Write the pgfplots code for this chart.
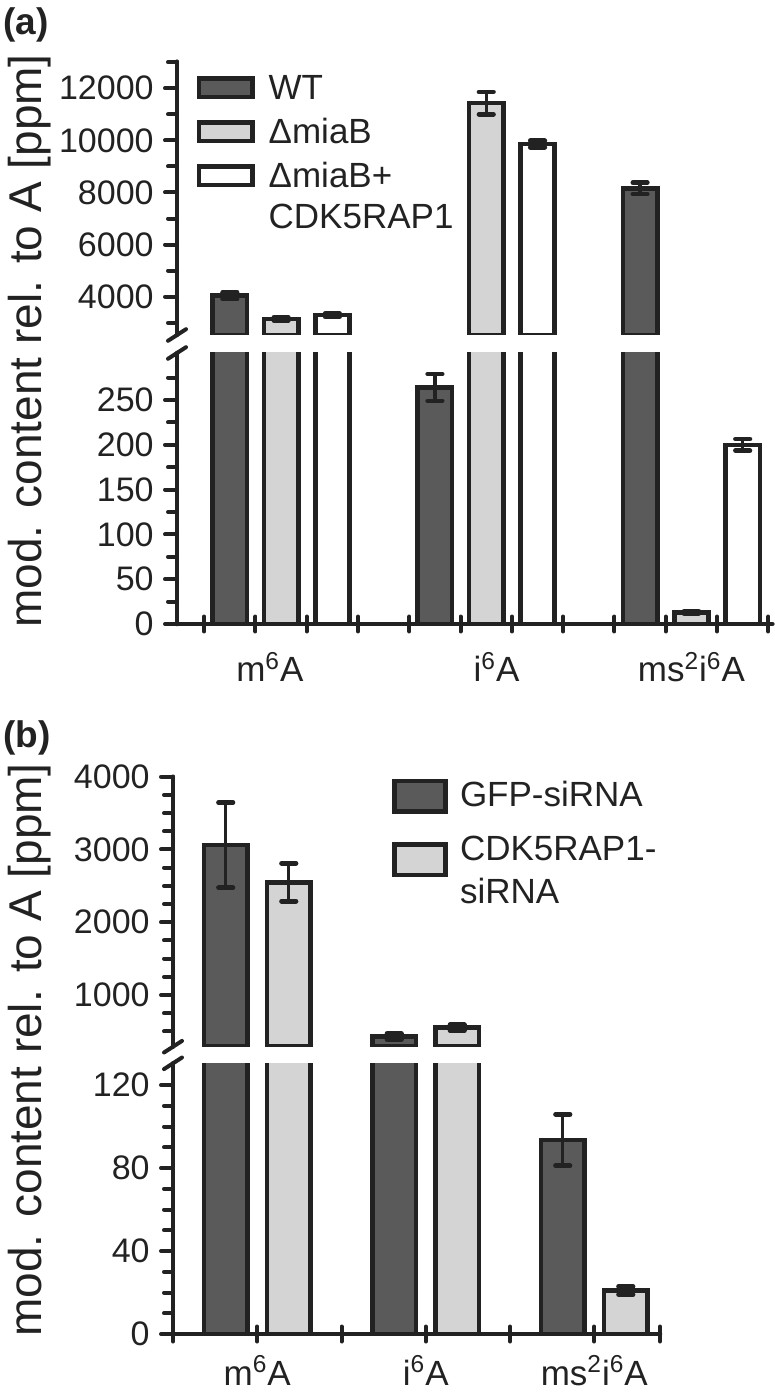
\documentclass[border=0pt]{standalone}
\usepackage{fontspec}
\setmainfont{Liberation Sans}
\usepackage{pgfplots}
\usepackage{pgfplotstable}
\pgfplotsset{compat=1.18}
\definecolor{darkbar}{RGB}{90,90,90}
\definecolor{lightbar}{RGB}{212,212,212}
\definecolor{ink}{RGB}{34,34,34}

% panel (a): x = slot position, y = value, e = error
\pgfplotstableread{
x y e
1 4040 130
5 264 15
9 8160 220
}\WTa
\pgfplotstableread{
x y e
2 3150 60
6 11430 430
10 13 1.5
}\MBa
\pgfplotstableread{
x y e
3 3290 60
7 9860 120
11 200 6.5
}\CPa
% panel (b)
\pgfplotstableread{
x y e
0.813 3060 585
1.813 430 40
2.813 93.5 12.4
}\GFPb
\pgfplotstableread{
x y e
1.187 2550 260
2.187 550 40
3.187 21 2
}\CDKb

\pgfplotsset{
  panel/.style={
    scale only axis,
    axis y line*=left,
    axis line style={line width=2.3pt, draw=ink, line cap=round},
    tick align=outside,
    major tick length=6pt,
    minor tick length=4.5pt,
    tick style={line width=2pt, draw=ink, line cap=round},
    tick label style={font=\fontsize{17}{20}\selectfont, text=ink},
    yticklabel style={inner sep=5.5pt},
    scaled y ticks=false,
    /pgf/number format/1000 sep={},
    /pgf/number format/assume math mode=true,
  },
  bars/.style={ybar, bar shift=0pt, draw=ink, line width=2.3pt,
    error bars/y dir=both, error bars/y explicit,
    error bars/error bar style={line width=1.7pt, draw=ink},
    error bars/error mark options={rotate=90, line width=2.4pt, mark size=3.6pt, draw=ink, line cap=round}},
  legboxA/.style={legend image code/.code={\draw[##1] (0pt,1.15pt) rectangle (26.7pt,10.35pt);}},
  legboxB/.style={legend image code/.code={\draw[##1] (0pt,-2.25pt) rectangle (25.7pt,12.95pt);}},
  legboxBb/.style={legend image code/.code={\draw[##1] (0pt,-7.2pt) rectangle (25.7pt,8.0pt);}},
  catlabels/.style={
    xtick style={draw=none},
    xticklabel style={font=\fontsize{17.5}{20}\selectfont, anchor=base, yshift=-23pt},
    extra x tick labels={},
    extra x tick style={tick align=center, major tick length=7.5pt, xtick style={draw=ink}},
  },
}

\begin{document}
\begin{tikzpicture}
\path[use as bounding box] (0pt,0pt) rectangle (387.5pt,-697.5pt);

% ---------------- (a) upper ----------------
\begin{axis}[panel, name=aup, hide x axis,
  at={(88.5pt,-167.5pt)}, anchor=south west,
  width=297.7pt, height=136.65pt,
  xmin=-0.03, xmax=11.58, ymin=2530, ymax=13020,
  ytick={4000,6000,8000,10000,12000},
  minor ytick={3000,5000,7000,9000,11000,13000},
  legend cell align=left,
  legend style={at={(0.0331,0.9466)}, anchor=north west, draw=none, fill=none,
    inner sep=0pt, outer sep=0pt, row sep=2.5pt,
    font=\fontsize{17.5}{21}\selectfont,
    nodes={inner sep=0pt, text height=8pt, text depth=8pt, text=ink},
    /tikz/every odd column/.append style={column sep=7pt}},
]
\addplot[bars, bar width=0.67, fill=darkbar, legboxA, restrict y to domain=2530:1000000] table[x=x, y=y, y error=e] {\WTa};
\addlegendentry{WT}
\addplot[bars, bar width=0.67, fill=lightbar, legboxA, restrict y to domain=2530:1000000] table[x=x, y=y, y error=e] {\MBa};
\addlegendentry{ΔmiaB}
\addplot[bars, bar width=0.67, fill=white, legboxA, restrict y to domain=2530:1000000] table[x=x, y=y, y error=e] {\CPa};
\addlegendentry{ΔmiaB+}
\addlegendimage{empty legend}
\addlegendentry[text height=10.35pt, text depth=10.35pt]{CDK5RAP1}
\end{axis}

% ---------------- (a) lower ----------------
\begin{axis}[panel, catlabels, name=alo, axis x line*=bottom,
  at={(88.5pt,-312pt)}, anchor=south west,
  width=297.7pt, height=135.5pt,
  xmin=-0.03, xmax=11.58, ymin=0, ymax=302.5,
  ytick={0,50,...,250},
  minor ytick={25,75,...,275},
  xtick={1.78,6.2,10},
  xticklabels={m\textsuperscript{6}A, i\textsuperscript{6}A, ms\textsuperscript{2}i\textsuperscript{6}A},
  extra x ticks={0.5,1.5,...,11.5},
  ylabel={mod. content rel. to A [ppm]},
  ylabel style={font=\fontsize{23}{27}\selectfont, text=ink,
    at={(axis description cs:-0.2272,1.0443)}, anchor=base},
]
\addplot[bars, bar width=0.67, fill=darkbar] table[x=x, y=y, y error=e] {\WTa};
\addplot[bars, bar width=0.67, fill=lightbar] table[x=x, y=y, y error=e] {\MBa};
\addplot[bars, bar width=0.67, fill=white] table[x=x, y=y, y error=e] {\CPa};
\end{axis}

% ---------------- (b) upper ----------------
\begin{axis}[panel, name=bup, hide x axis,
  at={(86.5pt,-523.35pt)}, anchor=south west,
  width=243.5pt, height=135pt,
  xmin=0.5, xmax=3.39, ymin=290, ymax=4000,
  ytick={1000,2000,3000,4000},
  minor ytick={500,750,1250,1500,1750,2250,2500,2750,3250,3500,3750},
  legend cell align=left,
  legend style={at={(0.4497,0.9933)}, anchor=north west, draw=none, fill=none,
    inner sep=0pt, outer sep=0pt, row sep=8.7pt,
    font=\fontsize{17.5}{21}\selectfont,
    nodes={inner sep=0pt, text height=9.15pt, text depth=9.15pt, text=ink},
    /tikz/every odd column/.append style={column sep=6pt}},
]
\addplot[bars, bar width=0.26, fill=darkbar, legboxB, restrict y to domain=290:1000000] table[x=x, y=y, y error=e] {\GFPb};
\addlegendentry{GFP-siRNA}
\addplot[bars, bar width=0.26, fill=lightbar, legboxBb, restrict y to domain=290:1000000] table[x=x, y=y, y error=e] {\CDKb};
\addlegendentry{CDK5RAP1-}
\addlegendimage{empty legend}
\addlegendentry[text height=3.3pt, text depth=3.3pt]{siRNA}
\end{axis}

% ---------------- (b) lower ----------------
\begin{axis}[panel, catlabels, name=blo, axis x line*=bottom,
  at={(86.5pt,-667pt)}, anchor=south west,
  width=243.5pt, height=135.35pt,
  xmin=0.5, xmax=3.39, ymin=0, ymax=130.5,
  ytick={0,40,80,120},
  minor ytick={10,20,30,50,60,70,90,100,110},
  xtick={1,2,3},
  xticklabels={m\textsuperscript{6}A, i\textsuperscript{6}A, ms\textsuperscript{2}i\textsuperscript{6}A},
  xticklabel style={yshift=3.5pt},
  extra x ticks={0.5,1,1.5,2,2.5,3,3.39},
  ylabel={mod. content rel. to A [ppm]},
  ylabel style={font=\fontsize{23}{27}\selectfont, text=ink,
    at={(axis description cs:-0.269,1.049)}, anchor=base},
]
\addplot[bars, bar width=0.26, fill=darkbar] table[x=x, y=y, y error=e] {\GFPb};
\addplot[bars, bar width=0.26, fill=lightbar] table[x=x, y=y, y error=e] {\CDKb};
\end{axis}

% axis break marks
\foreach \n in {aup,bup}
  \draw[ink, line width=2pt, line cap=round] (\n.south west) ++(-4.5pt,-2.9pt) -- ++(9pt,5.8pt);
\foreach \n in {alo,blo}
  \draw[ink, line width=2pt, line cap=round] (\n.north west) ++(-4.5pt,-2.9pt) -- ++(9pt,5.8pt);

% panel labels
\node[anchor=north west, inner sep=0pt, text=ink, font=\fontsize{18.5}{22}\selectfont\bfseries] at (1.5pt,-3.5pt) {(a)};
\node[anchor=north west, inner sep=0pt, text=ink, font=\fontsize{18.5}{22}\selectfont\bfseries] at (1.5pt,-360pt) {(b)};
\end{tikzpicture}
\end{document}
